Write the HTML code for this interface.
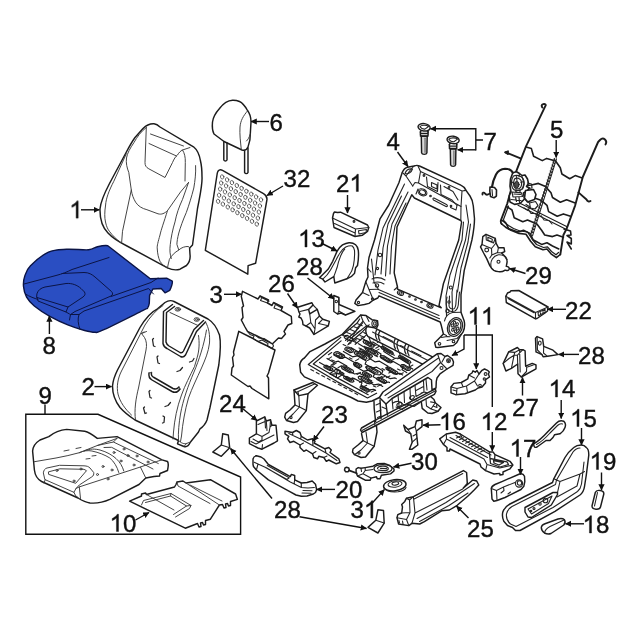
<!DOCTYPE html>
<html><head><meta charset="utf-8">
<style>
html,body{margin:0;padding:0;background:#fff;}
svg{display:block;}
text{font-family:"Liberation Sans",sans-serif;font-size:24.0px;fill:#111;stroke:#111;stroke-width:0.4px;}
.p{fill:none;stroke:#1c1c1c;stroke-width:1.45;stroke-linejoin:round;stroke-linecap:round;}
.t{fill:none;stroke:#3a3a3a;stroke-width:0.95;stroke-linejoin:round;stroke-linecap:round;}
.m{fill:none;stroke:#242424;stroke-width:1.1;stroke-linejoin:round;stroke-linecap:round;}
.a{fill:none;stroke:#111;stroke-width:1.4;}
.b{fill:#2a4ec2;stroke:#0b1445;stroke-width:1.4;stroke-linejoin:round;}
.bl{fill:none;stroke:#0b1445;stroke-width:1.0;stroke-linejoin:round;stroke-linecap:round;}
</style></head><body>
<svg width="640" height="640" viewBox="0 0 640 640">
<defs>
<marker id="ah" markerWidth="8" markerHeight="8" refX="5.8" refY="3.1" orient="auto" markerUnits="userSpaceOnUse"><path d="M0,0 L6.3,3.1 L0,6.2 Z" fill="#111"/></marker>
<path id="one" d="M763 0 H583 V-1147 Q518 -1085 412.5 -1023 T223 -930 V-1104 Q374 -1175 487 -1276 T647 -1472 H763 Z" fill="#111" stroke="#111" stroke-width="34"/>
</defs>
<rect width="640" height="640" fill="#fff"/>
<!-- p01_seatback.svg -->
<g>
<!-- outer outline -->
<path class="p" d="M154,123.800 C149,123.500 146,125.500 143,128.500 L135,137.500 C131,143 128,149 124.500,155.500 L109.500,183.500 C104,194 100.500,202 100,209 C99.800,218 101,226 108,233 C113,238.500 119,242 127,246 L167.500,267.800 C172,270 176,270.500 180,269.200 L186.500,265.500 C189.500,262.500 190.500,258.500 190,254.500 L189.600,248 L192.500,245 L197.500,208.500 C200,195 202.500,185 202,177 C202,170 201.500,165 200.500,161 C199.500,155 197.500,150 193.500,146.800 L160,127 C158,125 156,124 154,123.800 Z"/>
<g class="t">
<!-- shoulder seam from top-left -->
<path d="M146.300,127.500 C141,131.500 137,137 134,142.500 C130,148.500 127.300,153 126.500,158 C125.800,163 127,168 128.800,172.500 L131.300,190 C132,195 133.500,198.500 135.600,202.200 C138,206 142,208.500 146.900,209.700 L158,213.800 C161.500,214.800 164.500,213.500 167.500,210.600 L180.600,191.900 L188.500,182.500"/>
<!-- left inner seam -->
<path d="M126.300,153.800 L113.800,181.300 C109,190.500 106,198.500 105.600,205 C104.500,212 104.500,218 105.500,222 C106.500,227 108,229.500 109.400,231.300 C112.500,235.500 116,239 120.600,242.500"/>
<!-- center-left panel seam -->
<path d="M131.300,190 L122.500,231.300 L121.600,242.800"/>
<!-- headrest area -->
<path d="M146.300,127.500 L145,162.500 C145,165.500 146,167.300 148.800,168.800 L165,177.500 L172.500,162.500 C174,159 175.500,156.500 177.500,155 C179,152.500 180.500,151 182.500,150 L190,147.500"/>
<path d="M150.500,134 L183.500,146 M149,143.500 L176.500,156"/>
<!-- right of headrest down -->
<path d="M182.500,150 C184.500,153 185.500,157 185.300,162.500 L185,181"/>
<!-- right-center seam -->
<path d="M167.500,210.600 C164,222 161,230 160,235 C158,242 157,246 157.200,248 C157.500,254 158.500,258 160,261.300 C162,264.500 164.500,266.500 167.500,267.800"/>
<!-- right bolster inner lines -->
<path d="M188.500,182.500 C186.500,188 184.500,194 182.500,199.400 C179,207 176.500,214 175,221.900 C172.500,230 171,238 170.300,244.400 C169.500,250 170,255 171.300,258.500"/>
<path d="M195.600,165.600 C196,173 195,181 193.800,188 C191.500,197 189,205 186.300,212.500 C183,220 180.500,227 178.800,233 C177.500,238 177,241.500 176.900,244.400 L178.800,250 C181.500,247.500 185,246.300 188.500,246.500 L189.600,248"/>
<path d="M178.800,250 C174.500,252.500 171.500,255.500 169.400,259.400 C168.500,262.500 168,265.500 167.500,267.800"/>
</g>
</g>

<!-- p02_cushion_blue.svg -->
<g>
<path class="b" d="M30.5,265.8 C34.4,261.8 42.5,254.9 48.5,252.1 C54.5,249.4 59.9,249.7 66.6,249.3 C73.2,248.9 83.3,250.2 88.5,249.8 C93.6,249.4 94.3,247.4 97.5,246.7 C100.7,246.0 105.2,245.2 107.8,245.7 L113.0,249.8 L150.3,278.7 L166.6,278.2 L172.3,281.2 C172.8,283.3 170.9,288.3 169.7,290.3 L165.0,292.8 L161.2,288.5 L152.9,289.0 L149.6,295.4 L149.3,303.2 C149.0,305.3 148.6,306.8 147.5,308.1 C146.4,309.3 150.1,306.9 142.6,310.6 C135.1,314.3 110.6,326.6 102.7,330.2 C94.7,333.8 97.9,332.2 94.9,332.3 C91.9,332.3 89.1,331.7 84.6,330.5 C80.1,329.2 73.6,327.2 67.8,324.8 C62.0,322.5 55.4,319.4 49.8,316.3 C44.2,313.2 38.2,309.2 34.3,306.0 C30.5,302.8 28.4,300.5 26.6,297.2 C24.8,294.0 23.8,289.9 23.5,286.4 C23.2,282.9 23.6,279.5 24.8,276.1 C26.0,272.7 26.5,269.8 30.5,265.8 Z"/>
<g class="bl">
<path d="M24,284 L56,275.500 C62,274 67,272 72,269.500 L109,257.500"/>
<path d="M62,273.500 L84,272.500 C89,272.500 92,274.500 95,277 L111.500,291.500 C113,293 113,295 111,296 L75,311.500 L70.500,314.500 L69.500,320"/>
<path d="M111,296.500 L151,282.500 L158,278"/>
<path d="M37,293.500 C38,290 41,288 45,287 L66,283.500 C72,283 77,285 81,288.500 L84.500,292 C85.500,294 85,295.500 83,297 L68,307 L37,297.500 Z"/>
<path d="M37,297.500 L38,301 L66,312 L68,307"/>
<path d="M66,312 L69.500,314"/>
<path d="M25.500,294 C30,297 34,298 38,299.500"/>
<path d="M80,329.500 C78,324 77.500,319 79,314.500 L84,311 L148.500,288.500 L153.500,294"/>
<path d="M70.500,314.500 L79,314.500"/>
</g>
</g>

<!-- p03_headrest_panel.svg -->
<g class="p">
<!-- headrest 6 -->
<path d="M232.500,100.300 C228,100.500 223,104 219.500,108.500 C215.500,113 213,118 212.500,122 C212,127 212.500,131 214,134 L224,141.500 L242,150 C245,150.800 247,149.500 248,147 C249.500,143 250.500,138 250.300,134 L251,122 C251,117 249.500,113 247.500,110.500 C245,106 242,102.500 239.500,101.500 C237,100.500 235,100.200 232.500,100.300 Z"/>
<path class="t" d="M247.500,111 C243,116 240.500,121 240,127 C239.500,134 240.500,142 241.300,149.500"/>
<path class="t" d="M250.300,134 C249,138 248,139.500 246.500,141"/>
<path d="M223.800,141.500 L223.800,160 C224.500,161.300 226.300,161.300 227,160 L227,143"/>
<path d="M244.600,151 L244.600,172.500 C245.300,174 247.300,174 248,172.500 L248,148"/>
<!-- panel 32 -->
<path d="M217.300,173 C217.800,170 220,169 222.500,170.300 L263.500,193.700 C266.500,195.500 267.500,197.500 266.800,200.500 L255.600,263.300 L248.100,265.600 L247.800,274.200 L205.300,250.300 Z"/>
<g class="t" style="stroke-width:0.7"><ellipse cx="222.2" cy="176.9" rx="1.7" ry="2.1" transform="rotate(-15 222.2 176.9)"/><ellipse cx="227.1" cy="179.8" rx="1.7" ry="2.1" transform="rotate(-15 227.1 179.8)"/><ellipse cx="231.9" cy="182.6" rx="1.7" ry="2.1" transform="rotate(-15 231.9 182.6)"/><ellipse cx="236.8" cy="185.5" rx="1.7" ry="2.1" transform="rotate(-15 236.8 185.5)"/><ellipse cx="241.6" cy="188.3" rx="1.7" ry="2.1" transform="rotate(-15 241.6 188.3)"/><ellipse cx="246.4" cy="191.2" rx="1.7" ry="2.1" transform="rotate(-15 246.4 191.2)"/><ellipse cx="251.3" cy="194.1" rx="1.7" ry="2.1" transform="rotate(-15 251.3 194.1)"/><ellipse cx="256.1" cy="196.9" rx="1.7" ry="2.1" transform="rotate(-15 256.1 196.9)"/><ellipse cx="261.0" cy="199.8" rx="1.7" ry="2.1" transform="rotate(-15 261.0 199.8)"/><ellipse cx="221.2" cy="183.0" rx="1.7" ry="2.1" transform="rotate(-15 221.2 183.0)"/><ellipse cx="226.1" cy="185.9" rx="1.7" ry="2.1" transform="rotate(-15 226.1 185.9)"/><ellipse cx="230.9" cy="188.7" rx="1.7" ry="2.1" transform="rotate(-15 230.9 188.7)"/><ellipse cx="235.7" cy="191.6" rx="1.7" ry="2.1" transform="rotate(-15 235.7 191.6)"/><ellipse cx="240.6" cy="194.4" rx="1.7" ry="2.1" transform="rotate(-15 240.6 194.4)"/><ellipse cx="245.4" cy="197.3" rx="1.7" ry="2.1" transform="rotate(-15 245.4 197.3)"/><ellipse cx="250.2" cy="200.2" rx="1.7" ry="2.1" transform="rotate(-15 250.2 200.2)"/><ellipse cx="255.1" cy="203.0" rx="1.7" ry="2.1" transform="rotate(-15 255.1 203.0)"/><ellipse cx="259.9" cy="205.9" rx="1.7" ry="2.1" transform="rotate(-15 259.9 205.9)"/><ellipse cx="220.2" cy="189.1" rx="1.7" ry="2.1" transform="rotate(-15 220.2 189.1)"/><ellipse cx="225.0" cy="191.9" rx="1.7" ry="2.1" transform="rotate(-15 225.0 191.9)"/><ellipse cx="229.8" cy="194.8" rx="1.7" ry="2.1" transform="rotate(-15 229.8 194.8)"/><ellipse cx="234.7" cy="197.7" rx="1.7" ry="2.1" transform="rotate(-15 234.7 197.7)"/><ellipse cx="239.5" cy="200.5" rx="1.7" ry="2.1" transform="rotate(-15 239.5 200.5)"/><ellipse cx="244.4" cy="203.4" rx="1.7" ry="2.1" transform="rotate(-15 244.4 203.4)"/><ellipse cx="249.2" cy="206.2" rx="1.7" ry="2.1" transform="rotate(-15 249.2 206.2)"/><ellipse cx="254.0" cy="209.1" rx="1.7" ry="2.1" transform="rotate(-15 254.0 209.1)"/><ellipse cx="258.9" cy="212.0" rx="1.7" ry="2.1" transform="rotate(-15 258.9 212.0)"/><ellipse cx="219.1" cy="195.2" rx="1.7" ry="2.1" transform="rotate(-15 219.1 195.2)"/><ellipse cx="224.0" cy="198.0" rx="1.7" ry="2.1" transform="rotate(-15 224.0 198.0)"/><ellipse cx="228.8" cy="200.9" rx="1.7" ry="2.1" transform="rotate(-15 228.8 200.9)"/><ellipse cx="233.7" cy="203.8" rx="1.7" ry="2.1" transform="rotate(-15 233.7 203.8)"/><ellipse cx="238.5" cy="206.6" rx="1.7" ry="2.1" transform="rotate(-15 238.5 206.6)"/><ellipse cx="243.3" cy="209.5" rx="1.7" ry="2.1" transform="rotate(-15 243.3 209.5)"/><ellipse cx="248.2" cy="212.3" rx="1.7" ry="2.1" transform="rotate(-15 248.2 212.3)"/><ellipse cx="253.0" cy="215.2" rx="1.7" ry="2.1" transform="rotate(-15 253.0 215.2)"/><ellipse cx="257.9" cy="218.1" rx="1.7" ry="2.1" transform="rotate(-15 257.9 218.1)"/><ellipse cx="218.1" cy="201.3" rx="1.7" ry="2.1" transform="rotate(-15 218.1 201.3)"/><ellipse cx="222.9" cy="204.1" rx="1.7" ry="2.1" transform="rotate(-15 222.9 204.1)"/><ellipse cx="227.8" cy="207.0" rx="1.7" ry="2.1" transform="rotate(-15 227.8 207.0)"/><ellipse cx="232.6" cy="209.8" rx="1.7" ry="2.1" transform="rotate(-15 232.6 209.8)"/><ellipse cx="237.4" cy="212.7" rx="1.7" ry="2.1" transform="rotate(-15 237.4 212.7)"/><ellipse cx="242.3" cy="215.6" rx="1.7" ry="2.1" transform="rotate(-15 242.3 215.6)"/><ellipse cx="247.1" cy="218.4" rx="1.7" ry="2.1" transform="rotate(-15 247.1 218.4)"/><ellipse cx="252.0" cy="221.3" rx="1.7" ry="2.1" transform="rotate(-15 252.0 221.3)"/><ellipse cx="256.8" cy="224.1" rx="1.7" ry="2.1" transform="rotate(-15 256.8 224.1)"/></g>
</g>

<!-- p04_panels3.svg -->
<g class="p">
<!-- upper panel -->
<path d="M242.500,291.300 L258,299 L260,296 L268.500,300 L267.500,303 L272,305.500 L273.500,302.500 L282.500,307 L281,310.500 L291.300,316.300 L291.800,323.500 L288,325 L284,331.500 L285.500,334 L281.500,338.500 L278.500,338 L272.500,343.800 L256,335.500 L247.500,331.300 L245,327 L241.300,320 L243,317.500 L242,307.500 L243.500,306 L241.300,296.300 Z"/>
<path class="m" d="M260,296 L262,297.800 L269,301.200 M261.500,298.500 L260.500,300.500 L267.500,303 M273.500,302.500 L275.500,304.500 L282,308 M275,305.500 L274,308 L281,310.500"/>
<!-- connectors -->
<path class="m" d="M247.500,331.300 L250,334.500 L254,336 L253,338.500 L258,341.500 L262,340 L268,343.500 L267.500,346 L272,348.500 L273.500,346 L272.500,343.800 M256,335.500 L259,338 L264,338.500 L270.500,342.500"/>
<!-- lower panel -->
<path d="M238.800,331.300 L250,337 L253,338.500 L258,341.500 L267.500,346 L272,348.500 L275,350 L268.500,373 L267,376 L268.500,378 L268.800,398.800 L252,388.500 L250,386 L248,386.500 L231.300,375 L232,368 L233.500,366 L232.500,357.500 L234,355 L233.500,352 Z"/>
<!-- 26 bracket -->
<path d="M297.700,307.200 L311.900,302.800 L313,305 L308.600,309.400 L309.700,313.800 L317.300,309.400 L319.500,316 L322.800,319.200 L329.400,321.400 L328.300,325.800 L314,334.500 L309.700,328 L306,326 L303,324.700 L302.500,321 L301,318 L298.800,317 L300,314 L298.800,311.600 Z"/>
<path class="m" d="M308.600,309.400 L300,311.500 M309.700,313.800 L310.800,322.500 L315,329 L314,334.500 M310.800,322.500 L306,326 M317.300,309.400 L313,305 M319.500,316 L315.500,320 L315,329 M322.800,319.200 L318.500,323.500 L328.300,325.800"/>
<!-- 28 bracket upper -->
<path d="M333.800,295.500 L338.800,297.500 L339,304.500 L355,311.300 L345.500,315 L341,313 L337.500,314 L333.800,311.500 Z"/>
<path class="m" d="M338.800,297.500 L338.800,311 L345.500,315 M338.800,311 L337.500,314"/>
<circle class="m" cx="336.300" cy="301.500" r="1.200"/>
</g>

<!-- p05_pad2.svg -->
<g class="p">
<!-- seat back pad 2 outline -->
<path d="M165,302.500 C168,300.500 171,300 174,301.500 L208,319 C213,322 217,328 219.500,335 C221,342 220.500,352 218.800,365 L210,407.500 L207,420 C205.500,424 203.500,426.500 200,428.800 L198.500,432 L190.500,442 C188.500,446 186.500,447.500 184,446.500 L177.500,443.800 L178.500,440.500 L135,420 C129,416 124,412 120,407.500 C115,401 112.500,394 112.500,386 C113,380 115,375 117.500,370 L140,327.500 C145,319 151,312 157.500,308.800 Z"/>
<!-- inner left seam -->
<path class="t" d="M163,305.500 C156,310 150,317 145,325 L121.500,371 C117.500,379 116.500,387 118,394 C120,402 125,409 131.500,415"/>
<path class="t" d="M135.500,420 C134,410 136,398 138.500,388 L146,350 C147,345 146.500,341 144.500,337.500 L141.500,333.500 L144,332 M141.500,333.500 L146.500,331.500"/>
<!-- U channel top -->
<path d="M172.500,304.500 L163.500,311.500 L163,343.500 C163.500,346 165,347.500 167,348.500 L180.500,356.500 C182.500,357.500 184,357 185.500,355 L196.500,331.500 L205.500,322"/>
<path d="M174.500,306.500 L166.500,312.500 L166,342 C166.500,344 167.500,345 169,346 L180,352.500 C181.500,353.300 182.500,352.800 183.500,351 L194,329.500 L203.500,320.500"/>
<path class="t" d="M170,312.500 L198,325.500"/>
<ellipse class="t" cx="177.800" cy="309.300" rx="2.800" ry="1.800"/>
<ellipse class="t" cx="177.800" cy="309.300" rx="1.300" ry="0.800"/>
<ellipse class="t" cx="196.800" cy="319.500" rx="2.800" ry="1.800"/>
<ellipse class="t" cx="196.800" cy="319.500" rx="1.300" ry="0.800"/>
<!-- right bolster seams -->
<path class="t" d="M205.500,322 C209,328 210,335 209.500,343 C208.500,352 205,360 201.500,368 C197,378 192,388 188.500,398 C185,410 182.500,424 181.500,436 L180.500,441.500"/>
<path class="t" d="M198.500,335.500 C199.500,342 199.500,350 197,358 L194.500,366.500 C190,376 185,385 181.500,395 C177,407 174.500,420 173.500,432 L173,439"/>
<path class="t" d="M206.500,330 C204,345 199,360 194,372 C188,386 183,400 180.500,414 C179,423 178,432 178.500,440.500"/>
<path class="t" d="M178.500,440.500 C181,443 184.500,444.500 186.500,443.500 M184,446.500 L186.500,443.500 L190.500,442"/>
<!-- mid channel -->
<path d="M149,373 C148.500,376 149.500,378.500 152,380 L172,391.500 C175,393 178,392 180,389"/>
<path d="M151.500,372.500 C151,374.500 152,376.500 154,377.500 L173,388.500 C175.500,389.500 177.500,389 179,387"/>
<path class="t" d="M149,373 L151.500,372.500 M180,389 L179,387"/>
<!-- small clips -->
<g class="m" style="stroke-width:1.25">
<path d="M153.500,338.500 L152.500,339.500 L153.500,346 L155,346.500"/>
<path d="M158,356 L157,357 L158,363 L159.500,363.500"/>
<path d="M189.500,362 L192.500,361 L194,358.500"/>
<path d="M177,371.500 L180,370.500 L182.500,367.500"/>
<path d="M150,390.500 L149,391.500 L150,397.500 L151.500,398"/>
<path d="M144.500,407 L143.500,408 L145,413.500 L146.500,413"/>
<path d="M165,406.500 L168,405.500 L170.500,402.500"/>
<path d="M163,416 L164.500,417 L164,422.500 L162.500,423"/>
</g>
</g>

<!-- p06_box9.svg -->
<g class="p">
<!-- pad 9 -->
<path d="M32.600,451 C33,446 36,442.500 40,440 L48.800,436.600 C54,432.500 60,430 66.700,429.400 L84.700,431.200 C89,432 93,435 97.300,438.400 L117,436.600 L162,459.900 L167.500,461.500 C168.500,463 168.500,466 167.500,470.500 L160,473.500 L159.500,476 L154,476.500 L145.800,478 L139,484.500 L109.800,499.400 C103,502.500 96,503.500 90,503 C86,502.500 82,500.500 78,498 L41.600,481.500 C37,479 35,475 34.400,470 Z"/>
<path class="t" d="M34.400,461.700 L56,458 C64,456.500 72,454.800 79.300,452.700 L97.300,445.500 L117,438.400"/>
<path class="t" d="M43.400,472.500 C43.800,470 45,468.500 47,468 L59.500,465.300 L84,465.800 C87,466 88.500,466.500 90,468 L93.700,472.500 C94,474.500 93.500,475.800 91.900,476.800 L79.300,485 L76,488.500 L73.900,492.300 L45.200,479.700 Z"/>
<path class="t" d="M48.800,471.800 L60,468.800 L84,469.300 L86.500,470.700 L75.700,483.300 L49,474.500 Z"/>
<path class="t" d="M73.900,492.300 L75.700,495.800 L78,497.500 M45.200,479.700 L44,483"/>
<path class="t" d="M79.300,486.900 L140.400,467 L145.800,478 M76,488.500 L79.300,486.900 L80.500,498.500"/>
<path class="t" d="M140.400,467 L156.500,461.500 L162,459.900"/>
<path class="t" d="M79.300,452.700 C84,450.500 88,450.300 91.900,451 C99,452.500 105,455 109.800,458 C114,461.500 117,466.500 118.800,472.500 M84.500,450.800 C90,448.500 95,448.800 100,450 C107,452 112,455 116,458.500 C120,462 122.500,466.500 123.800,471"/>
<path class="t" d="M97.300,445.500 L113.400,442 L158.300,463.500 M104,447.500 L111.600,447.300 L153,469 M117,438.400 L113.400,442"/>
<g class="t">
<circle cx="57" cy="470.500" r="1"/><circle cx="81" cy="469" r="1"/><circle cx="74" cy="481" r="1"/>
<circle cx="103" cy="466.500" r="1"/><circle cx="97.500" cy="474.500" r="1"/><circle cx="108" cy="479" r="1"/>
<circle cx="121" cy="461" r="1"/><circle cx="134" cy="465" r="1"/><circle cx="114" cy="452.500" r="1"/>
<circle cx="124" cy="449" r="1"/><circle cx="137" cy="456" r="1"/><circle cx="148" cy="462" r="1"/>
<circle cx="128" cy="455.500" r="1"/><circle cx="112" cy="470" r="1"/>
<path d="M64,451 L69,450 M76,448.500 L81,447.500 M86,459 L90,458.500 M92,456 L96,455.500"/>
</g>
<!-- part 10 -->
<path d="M129.600,501.200 L141.500,496 L141.500,494 L145.500,493 L146.500,494.500 L174.500,487 L176,484.500 L177,482 L183,481 L186,483 L210.400,479.700 L235.600,494 L237.400,499.400 L230.500,501.500 L230.500,505.500 L228.500,506 L227.500,503.500 L225.500,504 L226,507.500 L224,508 L222.500,504.500 L219.400,505 L210.400,519.200 L205.500,520.500 L205.500,524.500 L203.500,525 L202.500,522.500 L200.500,523 L201,526.500 L199,527 L197.500,523.500 L185.300,528.200 Z"/>
<path class="t" d="M146.500,494.500 L174,510 M141.500,505 L143.500,500.500 L171,493.500 L191,505.500 L189.500,508.500 L175.500,517 M145.500,502.500 L170.500,496 L186.500,506 L173.500,514.500 M171,493.500 L170.500,496 M191,505.500 L186.500,506"/>
<path class="t" d="M186,483 L219.400,505 M177,482 L178,486 L210,503.500 M190,485 L222,501"/>
</g>

<!-- p07_frame4.svg -->
<g class="p">
<!-- frame 4 outer -->
<path d="M402.300,172.300 C403.500,169.500 405.500,167.700 407.500,167.200 L414,166 C416,165.200 418,165.200 419.500,166 L460.800,185.200 C463.500,186.300 465,188 466,190.400 L470,196 C472,199 473,202 473.300,206 L474.500,218.800 C474.500,224 473.500,232 471.900,240 L464.200,270.600 L461,294.700 L461,312.200 L464.200,321 C465,325 464.500,329 463.100,331.900 L460.500,335.500 L456.600,342.800 L453.500,345.500 L438,347.500 L435.800,347.200 L434.700,342.800 L438,339.500 L443.400,334 L441.250,325.300 L440.200,322 L379,295.800 L377.800,298 L373.400,300 L369,303.400 L364.500,304.500 L358,305.600 L354.800,303.400 L356,300 L362.500,292.500 L365.800,281.600 L368,277 L367.500,268 L369,257.500 L374.500,240 L380,218.800 L388.800,205 L398.900,182.700 Z"/>
<!-- inner opening -->
<path d="M414.400,198 L411.800,194.700 L408,203 L397,227 L396.400,240 L394.200,272.800 L397.500,287 L397.500,289.200 L441.250,307.800 L439,305.600 L443.400,283.750 L458.750,240 L461.600,222 L460.800,220.500 Z"/>
<!-- top crossbar details -->
<path class="m" d="M412.700,186 L415,182.500 L418.500,183 L461,206.500 L460.800,220.500 M418.500,183 L420.500,171.500 L417.800,165.500"/>
<path class="m" d="M420.500,171.500 L462,191 L466,190.400 M462,191 L461,206.500"/>
<path class="m" d="M402.300,172.300 L406,176 L412.700,186 M406,176 L410,170.500 L414,166"/>
<path class="m" d="M405,173.500 C406,170.500 409,168.500 412.500,169 C411.500,172 408.500,174.500 405,173.500 Z"/>
<path class="m" d="M426.500,177 L427.500,186.500 L437.500,191.500 L438,182.500 M431.500,182.500 L437,185 L437,189 L431.500,186.500 Z"/>
<path class="m" d="M440.500,185 L441,194.500 L452,200 L457,205.500 M444,186.500 L453,191.500 L458,200"/>
<ellipse class="m" cx="422.500" cy="192.300" rx="3.200" ry="2.200" transform="rotate(25 422.500 192.300)"/>
<ellipse class="m" cx="422.500" cy="192.300" rx="4.600" ry="3.300" transform="rotate(25 422.500 192.300)"/>
<path class="m" d="M434,198 L446.500,204.500 C448,205.500 447.500,207 446,206.500 L433.500,200 C432.500,199 433,197.700 434,198 Z"/>
<path class="m" d="M416,194 L418,189 M450.500,207.500 L456,210 L457,205.500"/>
<circle class="m" cx="424" cy="175.500" r="0.900"/><circle class="m" cx="449" cy="187.500" r="0.900"/><circle class="m" cx="430.500" cy="196" r="0.800"/><circle class="m" cx="451" cy="206" r="0.800"/>
<!-- left upright channels -->
<path class="m" d="M404.500,184 L383,228 L378,250 L375,275 M408,192 L392,224 L387.500,246 L385.500,276 M401.500,196 L388,224 L383,248 L381,274 M406,203 L395,226 L391.500,246 L390,274"/>
<path class="m" d="M371.500,259 L374,282 L378,288.500 M367.500,268 L371,272"/>
<circle class="m" cx="380" cy="255" r="1.700"/><circle class="m" cx="377.500" cy="268.500" r="1.100"/><circle class="m" cx="377" cy="285.500" r="1.700"/>
<path class="m" d="M372,279 C376,277 381,277.500 385,280 M373,283 C377,281.500 381,282 384,284"/>
<!-- left foot -->
<path class="m" d="M365.800,281.600 L369,289.500 L373.400,300 M362.500,292.500 L369,295.500 M369,289.500 L377.800,289.200"/>
<circle class="m" cx="358.500" cy="302.500" r="1.100"/><circle class="m" cx="372.500" cy="299" r="1.100"/>
<!-- bottom crossbar -->
<path class="m" d="M377.800,289.200 L439,315.500 M379,292.500 L439.500,318.700 M397.500,287 L394.200,290"/>
<ellipse class="m" cx="400.500" cy="293" rx="3.200" ry="2.200" transform="rotate(23 400.500 293)"/>
<ellipse class="m" cx="400.500" cy="293" rx="1.600" ry="1.100" transform="rotate(23 400.500 293)"/>
<ellipse class="m" cx="430" cy="305.800" rx="3.200" ry="2.200" transform="rotate(23 430 305.800)"/>
<ellipse class="m" cx="430" cy="305.800" rx="1.600" ry="1.100" transform="rotate(23 430 305.800)"/>
<circle class="m" cx="409.500" cy="296.500" r="0.800"/><circle class="m" cx="415.500" cy="299.500" r="0.800"/><circle class="m" cx="421.500" cy="302" r="0.800"/>
<!-- right upright channels -->
<path class="m" d="M466,205 L468.500,222 L465.500,240 L457,268 L452,292 L452.500,312 M463.500,222 L462,240 L450,275 L446,296 L446.500,316 M470.500,224 L468,242 L461,268 L457.500,292"/>
<circle class="m" cx="450.800" cy="287.500" r="1.500"/><circle class="m" cx="449" cy="302" r="1.200"/><circle class="m" cx="447.500" cy="311" r="1.700"/>
<!-- recliner -->
<ellipse class="m" style="stroke-width:1.3" cx="455.0" cy="327.0" rx="7.2" ry="9.6" transform="rotate(22 455.0 327.0)" fill="#fff"/>
<ellipse class="m" style="stroke-width:1.2" cx="455.0" cy="327.0" rx="5.600" ry="7.800" transform="rotate(22 455.0 327.0)"/>
<ellipse class="m" cx="457.7" cy="328.5" rx="1.1" ry="1.5" transform="rotate(20 457.7 328.5)"/><ellipse class="m" cx="455.5" cy="331.3" rx="1.1" ry="1.5" transform="rotate(20 455.5 331.3)"/><ellipse class="m" cx="452.8" cy="329.8" rx="1.1" ry="1.5" transform="rotate(20 452.8 329.8)"/><ellipse class="m" cx="452.3" cy="325.5" rx="1.1" ry="1.5" transform="rotate(20 452.3 325.5)"/><ellipse class="m" cx="454.5" cy="322.7" rx="1.1" ry="1.5" transform="rotate(20 454.5 322.7)"/><ellipse class="m" cx="457.2" cy="324.2" rx="1.1" ry="1.5" transform="rotate(20 457.2 324.2)"/>
<circle class="m" cx="455.0" cy="327.0" r="1.100"/>
<path class="m" d="M444.500,321 C445.500,316.500 448.500,313.500 452.500,312.500 L461,312.200 M446.500,335.500 L443.400,334 M441.500,337.500 L447,336.500 L450,336.800 M447,340.500 L457,338.500 L461,334.500"/>
<circle class="m" cx="439.500" cy="343.800" r="1.300"/><circle class="m" cx="453.500" cy="341.500" r="1.300"/>
<path class="m" d="M447,297 C446,301 446,306 447.500,309.500 C449,311.500 452,311.800 455,311 C457.500,309.500 458.500,306 458.500,302 L459.500,292 M449.500,296 L449,306 C449.500,308.500 451.500,309.500 454,308.800 C455.500,307.500 456,305 456,302 L457,290"/>
</g>

<!-- p08_bolts_mat.svg -->
<g class="p">
<!-- bolts 7 -->
<path d="M421.3,136.3 L421.6,152.8 C422.1,154.9 426.4,154.9 426.9,152.8 L427.2,136.3 Z" fill="#d9d9d9"/>
<path class="m" style="stroke:#777;stroke-width:1.4" d="M425.05,138.3 L425.05,152.3"/>
<path d="M420.40000000000003,131.8 L420.40000000000003,134.8 L421.3,136.3 M428.09999999999997,131.8 L428.09999999999997,134.8 L427.2,136.3 M420.40000000000003,135.9 L428.09999999999997,135.9 M420.40000000000003,133.5 L428.09999999999997,133.5"/>
<path d="M421.1,130.5 L420.40000000000003,132.1 M427.4,130.5 L428.09999999999997,132.1"/>
<ellipse cx="424.1" cy="127.3" rx="6.1" ry="3.7" transform="rotate(8 424.1 127.3)" fill="#fff"/>
<path class="m" d="M419.90000000000003,126.7 C421.1,124.89999999999999 426.6,124.7 428.5,126.5 L424.90000000000003,129.1 C423.1,129.3 421.1,128.3 419.90000000000003,126.7 Z"/>
<path d="M450.3,148.9 L450.6,164.8 C451.1,166.9 455.09999999999997,166.9 455.59999999999997,164.8 L455.9,148.9 Z" fill="#d9d9d9"/>
<path class="m" style="stroke:#777;stroke-width:1.4" d="M453.90000000000003,150.9 L453.90000000000003,164.3"/>
<path d="M449.40000000000003,144.4 L449.40000000000003,147.4 L450.3,148.9 M456.79999999999995,144.4 L456.79999999999995,147.4 L455.9,148.9 M449.40000000000003,148.5 L456.79999999999995,148.5 M449.40000000000003,146.1 L456.79999999999995,146.1"/>
<path d="M450.1,143.1 L449.40000000000003,144.70000000000002 M456.09999999999997,143.1 L456.79999999999995,144.70000000000002"/>
<ellipse cx="453.1" cy="139.9" rx="6.1" ry="3.7" transform="rotate(8 453.1 139.9)" fill="#fff"/>
<path class="m" d="M448.90000000000003,139.3 C450.1,137.5 455.6,137.3 457.5,139.1 L453.90000000000003,141.70000000000002 C452.1,141.9 450.1,140.9 448.90000000000003,139.3 Z"/>
</g>
<g class="p" style="stroke-width:1.9">
<!-- spring mat 5: side wires -->
<path d="M542.300,107.500 C541.300,106 541.500,104.500 543,104.200 C544.500,103.800 545.800,104.200 545.800,105.200 L526,146.400 L516.100,171.600 L507.200,203.800 L501,220 C500.500,222.500 501,223.500 501.700,224"/>
<path d="M605.500,144.500 C606.500,143 606.500,141 605,139.500 C603.500,138.300 601.500,138.500 600,140 L598.100,142 L582.800,177 L575.200,205.300 L566.600,228.800 L563.400,235 L560.300,254.500"/>
<path d="M505.500,152.300 L520.500,158.400"/>
<path d="M505.200,152.300 L508,151.300 L507.800,154 Z" fill="#222"/>
<path d="M578.400,192.400 L586.500,199.500 C587.500,201.500 589,202 590.500,201"/>
</g>
<g class="p" style="stroke-width:1.6">
<!-- zigzags -->
<path d="M526,147 L531.400,148.600 L533.600,156.300 L542.300,160.600 L546.700,158.400 L555.600,161 L560.300,167.800 L561.900,174 L569.700,178.800 L575.200,175.600 L582.200,178"/>
<path d="M527.500,185.500 L531.400,185 L538.400,183.400 L545.500,186.600 L551,192.800 L552.500,197.500 L560.300,202.200 L566.600,199.800 L575.200,203"/>
<path d="M527.500,200.600 L535.300,198.300 L541.600,200.600 L547,205.300 L548.600,211.600 L557.200,216.300 L563.400,213.900 L570.500,216.300"/>
<path d="M507.200,206.900 L512,210 L514.200,217.800 L522.800,221.700 L527.500,220 L536.900,224 L541.600,230.300 L544.700,235 L552.500,236.600 L557,235 L563.400,237.300"/>
<path d="M501.700,220.200 L505.600,222.500 L508.800,228.800 L518,232 L523.500,230.300 L530,233.400 L533,239.700 L541.600,244.400 L547,242.800 L552.500,246 L558.800,249"/>
<path d="M501.700,224 L505.600,227.200 L511,230.300 L519,233.400 L526,234.200 L530.600,241.300 L535.300,246.700 L543,249.800 L547,249 L551,253.800 L556.400,257.700 L560.300,254.500"/>
<path style="stroke-width:1.2" d="M508.500,206 L503.500,219.500 L504.500,222.500 L508.500,225.500 L513.500,228.500 L520,231 L527.500,232 L532,239 L536.500,244.500 L543.500,247.500 L547.500,246.800 L551.500,251.500 L556,254.800 L558.500,252.500"/>
<!-- center strap -->
<path class="m" d="M554.700,158.400 L530.500,235.500 M556.500,158.800 L532.500,235.800"/>
<path class="m" d="M555.500,160.600 L554,159 M554.500,163.500 L553,162 M553.600,166.500 L552.100,165 M552.600,169.500 L551.100,168 M551.700,172.500 L550.200,171 M550.700,175.500 L549.200,174 M549.800,178.500 L548.300,177 M548.800,181.500 L547.300,180 M547.900,184.500 L546.400,183 M546.900,187.500 L545.400,186 M546,190.500 L544.500,189 M545,193.500 L543.500,192 M544.100,196.500 L542.600,195 M543.100,199.500 L541.600,198 M542.200,202.500 L540.700,201 M541.200,205.500 L539.700,204 M540.300,208.500 L538.800,207 M539.300,211.500 L537.800,210 M538.400,214.500 L536.900,213 M537.400,217.500 L535.900,216 M536.500,220.500 L535,219 M535.500,223.500 L534,222 M534.600,226.500 L533.100,225 M533.600,229.500 L532.100,228 M532.700,232.500 L531.200,231"/>
<!-- lumbar bar -->
<path style="stroke-width:1.1" d="M518,205.300 L565,228.800 M519.500,203 L566.600,226.500"/>
<path class="m" d="M528,209 L531,213.500 L536,213.500 L538.500,216.500 M541,215.500 L544,220 L549,220.500 L552,224"/>
<!-- right lower bracket -->
<path d="M564,229 L570.500,231 L571,235 L567,235.500 L571.300,238.500 L571.300,244 L567,242 L571.300,249"/>
<!-- motor -->
<path d="M512.800,172.700 L516.500,171.800 L519.500,173.500 L522,175.500 L525,175 L527.500,179 L528.500,183.500 L526.500,186.500 L529.500,188 L527,191 L523.500,193 L524.500,199 L520,203.500 L514.500,204.400 L510,202 L509.200,196 L511,192 L510,186 L510.500,179 Z" fill="#fff"/>
<path class="m" style="stroke-width:1.2" d="M513.500,176 C516.500,174.500 521,175.500 523,178.500 C525,182 524.500,187 521.500,189.500 C518.500,191.500 514,191 512.500,188 C511,184 511.500,179 513.500,176 Z"/>
<path class="m" style="stroke-width:1.2" d="M514.500,179 C516.500,177.500 519.500,178 521,180.500 C522,183.500 521.500,187 519.500,188.500 C517.500,189.500 515,188.800 514,186.500 C513.300,184 513.500,181 514.500,179 Z"/>
<ellipse cx="516.800" cy="184.600" rx="2.300" ry="3.200" fill="#4a4a4a" stroke="#222" stroke-width="1"/>
<path class="m" d="M516.500,176.500 L517,181 M512,182 L514.500,183.500 M521,182.500 L523.500,181.500 M522,176.500 L524,183 L522.500,189 M519.500,173.500 L519,177"/>
<path class="m" style="stroke-width:1.2" d="M512,192 L521.500,192.800 L522.500,196.500 L513,197 Z M511,199.500 L521,200.500 M514,194 L520.500,194.500 M516,189.500 L516,192 M520,189.500 L520,192 M515.500,197 L516.500,201.500 M519,197 L519.500,203"/>
<path d="M525.500,190.500 L533.500,189.500 L536,194.500 L534.500,199.500 L527.500,202 L524.500,198 Z" fill="#fff"/>
<path class="m" style="stroke-width:1.2" d="M527.500,183 L531.500,184 L532,188 L528.500,188.500 M529.500,203 L535.500,201.500 L538,205.500 L535,209 L530.500,208 Z M524.500,199 L529.500,203 M526,204.500 L530,207 L528,210.500 L524,208"/>
<!-- cable -->
<path d="M512.800,172.700 C511.500,170 509,168.800 505,168.800 C501,169 498,171 496,174.500 C494,178.500 492.500,183 492,187" style="stroke-width:2.1"/>
<path d="M490,187 L494.500,187.500 L496.500,190 L496.400,196 L494,197.800 L490.500,196.500 L489.800,191 Z"/>
<path class="m" d="M492,189.500 L492.500,195.500"/>
<path d="M482.500,194.500 C482,192.500 484,192 485,193.500 C486,195 487.500,195 489.500,193.800" style="stroke-width:1.9"/>
</g>

<!-- p09_small_right.svg -->
<g class="p">
<!-- motor 29 -->
<path d="M482.800,236.700 L486,234.400 L495.300,238.300 L496,243 L498.400,247.700 L504,247.700 L504.700,251.600 L501.600,253 L505.500,257 C506.800,259 507.300,261 507,262.500 L506.300,266.400 C508,266.500 509.300,267.500 509.300,268.800 C509.300,270.200 507.500,271 506,270.300 L504.700,270.300 C503,271.500 500.500,272 498.400,271.600 C496.500,271.500 495,271 493.800,270.300 C492,269 490.800,267.500 489.800,265.600 L486.700,258.600 L483.600,253 L480.500,246.900 L482,244.500 Z"/>
<path class="m" d="M486,234.400 L486.300,240 L493.500,243 L495.300,238.300 M487.800,237.300 L488,240.300 L492,242 L492.300,239.200 Z M482,244.500 L491.500,248.500 L496,243 M491.500,248.500 L491.800,255 L489.800,258 M498.400,247.700 L497.500,252.500 L501.600,253 M491.800,255 L497.500,252.500"/>
<path class="m" d="M491,266.500 C490,261 493,256 498.400,254.800 C502.500,254.500 505.500,256.500 507,259.500"/>
<circle class="m" cx="486.700" cy="250" r="1.900"/><circle class="m" cx="498.500" cy="261.800" r="1.500"/>
<!-- module 22 -->
<path d="M507.500,293 L510,292 L511,290.800 L518.800,290.500 L548,307 L547.500,311 L545,313 L537,318.500 L535.500,318.800 L506.300,302.500 L505.800,296.300 Z"/>
<path class="m" d="M505.800,296.300 L535.500,312.500 L548,307 M535.500,312.500 L535.500,318.800 M508,298.500 L534,312.800"/>
<path class="m" d="M538,312.500 L545,309.300 L545.200,312.200 L538.500,315.800 Z M540.500,312.800 L540.600,314.500 M543,311.500 L543,313.200"/>
<!-- module 21 -->
<path d="M333.500,213.500 L334.500,212 L337.500,212.500 L340.500,212.200 L367.500,225 L368.800,227.500 L367.500,231.500 L362.500,235.200 L355,236.500 L334,227.500 L332.500,218 Z"/>
<path class="m" d="M332.500,218 L355.500,229 L368.800,227.500 M355.500,229 L355,236.500 M334.500,223.500 L355,233"/>
<path class="m" d="M358.500,230.800 L366.500,229.500 L366,232.500 L359,234 Z"/>
<circle class="m" cx="354" cy="221.500" r="0.900"/>
<!-- part 13 -->
<path d="M319.500,277.700 L322.800,279.200 L325,282 L333.800,276.600 L334.800,283 L346.900,278.800 C350.500,277.500 353,275.500 354.500,273.300 L355.600,267.800 L357.500,265.500 C358.500,260 358.800,255 358.300,250.300 C357.800,247.500 357,246 355.600,244.800 C353.500,243 351.500,242.500 349,242.700 C346.500,243 344.500,243.800 342.500,244.800 C340,246.500 338.500,248.500 337,251.400 L332.700,261.300 L328.300,269 Z"/>
<path class="m" d="M322.800,279.200 C326,276.500 328.500,273.500 330.500,270 L336,260 C337.500,257 338.800,254.500 340.300,252.500 C342,250 343.500,248.300 345.800,247 C348,246 350.500,245.500 352.300,246 C353.500,247 354.200,248.500 354.500,250.300 C354.800,255 354.500,260 353.400,265.600 C352.500,270 351,273 349,275.500 L346.900,278.800 M333.800,276.600 C335,273.500 336,270.500 337,267.800 C338,263.500 339,260 340.300,256.900 C341.500,253.500 343,251 344.700,249.200"/>
<!-- part 28 right -->
<path d="M535.500,338.200 L537.100,336.600 L542.600,338.800 L543.700,346.400 L553,350.200 L557.900,354.600 L547.500,356.300 L543.100,356.800 L542,354.600 L536,351.900 Z"/>
<path class="m" d="M537.100,336.600 L537.500,350 L542,354.600 M543.700,346.400 L543.500,353 L547.500,356.300"/>
<ellipse class="m" cx="539.800" cy="343.100" rx="1.400" ry="2.100"/>
<!-- part 27 -->
<path d="M508.700,351.900 L517.400,347.500 L519.600,349.700 L522.900,349.700 L525.100,350.800 L525.600,366.100 L532.200,363.400 L536,365 L536,368.800 L521.300,377 L518,373.800 L517.700,364 L511.400,368.300 L505.900,371 L503.200,363.400 Z"/>
<path class="m" d="M508.700,351.900 L514.700,352.400 L519.600,349.700 M514.700,352.400 L514.100,355.200 L511.400,368.300 M514.100,355.200 L517.400,355.200 L517.700,364 M517.400,355.200 L522.900,349.700 M503.200,363.400 L509,358.500 L514.100,355.200 M525.600,366.100 L526.700,367.200 L533.300,365 M526.700,367.200 L526.500,371.500 L521.300,377 M519.600,349.700 L520.200,372"/>
<!-- part 11 handle -->
<path d="M451,387 L453.800,383.400 L461.300,382.500 L467.800,378.800 L468.800,375 L472,373 L473,370.800 L475.300,372.200 L477,370.500 L479,374 L482,370.300 L484.500,369 L487.500,370.300 L489.300,372 L488.400,374 L489.500,377 L485.600,379.700 L485.500,383 L482,387 L478,388 L475.300,390 L465,393.800 L455.600,394.700 L451,392.800 Z"/>
<path class="m" d="M451,387 L457,388.500 L456.500,394.500 M457,388.500 L466.500,386 L474.500,381 L479,374 M466.500,386 L467.500,392.500 M474.500,381 L477.500,386 M461.300,382.500 L463,386.800 M468.800,375 L474.500,378 M453,390 L456.500,391"/>
<circle class="m" cx="485.600" cy="374" r="1.400"/><circle class="m" cx="484.300" cy="379" r="1.100"/><circle class="m" cx="480" cy="385.500" r="1.300"/>
<!-- part 12 track -->
<path d="M439.700,438.800 L446.300,434 L455.600,432.200 L460.300,434 L489.400,451.900 L493,451.900 L495,454.700 L510,461.300 L512.800,465 L510,468.800 L503,472 L503,474.500 L500,475 L499.700,473.400 L494,474 L485.600,470.600 L481,467 L480,464 L450,449 L449.500,451 L447,451 L447,447.500 L443.400,444.400 Z"/>
<path class="m" d="M446.300,434 L446.500,439 L443.400,444.400 M446.500,439 L484,459 L487,464.500 L499.700,468 L512.800,465 M487,464.500 L485.600,470.600 M450,437.500 L487.500,457.500 M456,435.500 L491,455 M460.300,434 L462,437.500"/>
<path class="m" d="M456.500,438 L460.500,436 M459.500,439.800 L463.500,437.800 M462.500,441.500 L466.500,439.500 M465.500,443.300 L469.500,441.300 M468.500,445 L472.500,443 M471.500,446.800 L475.500,444.800 M474.500,448.500 L478.500,446.500 M477.500,450.300 L481.500,448.300 M480.500,452 L484.500,450"/>
<path class="m" style="stroke-width:1.3" d="M490,458.500 L507,461.800 L508.500,464.500 L500,467 L490.500,463.500 Z M493.500,460.500 L503.500,462.500 L499,465 L494,463 Z M489.400,451.900 L490,458.500 M495,454.700 L494.500,459.500"/>
<!-- part 17 -->
<path d="M491.300,488.500 C491.500,486.500 493,485.500 495,484.500 L502.500,481.300 L519.500,474 C521.500,473.300 523.500,474 524.500,476.300 L524.800,481.500 L523.800,486.300 L521,489.500 L505,497.500 L497,500.500 L493.800,501.300 L492,499 Z"/>
<path class="m" d="M491.300,488.500 L496.500,490.500 L497,500.500 M496.500,490.500 L503.500,487 L515,482.500 M503.500,487 L504,490.500 L501,493 M508,494 L510.500,492"/>
<circle class="m" cx="519" cy="483.500" r="3.600"/><circle class="m" cx="519.500" cy="483" r="2.200"/>
<!-- part 14 -->
<path d="M533.800,443.800 C538,441.500 543,437 548,431.500 L556.500,423 C558.500,421 561.500,420.500 563.800,421.300 C565.500,423 565.800,425.500 565,427.500 C564,430.500 562,432.500 560,433.800 L554.500,434.800 L553,437.500 L550,440.500 L546,440.500 L537,447 C535,448 533.500,447 533.800,443.800 Z"/>
<path class="m" d="M536.500,444.500 C541,442 546,437.500 550,433 L557.500,425.500 C559,424 561,423.500 562.500,424"/>
<!-- part 15 shield -->
<path d="M581.300,445 C578,445 575.500,446 573.800,447.500 C570,450.500 567,454 565,457.500 L553.800,478.800 L552.500,482.500 L510,504 C506.500,506 504,508.500 502.800,512 C502,515.500 502.500,518.500 503.800,521.300 L507.500,525.500 L512.500,527.500 L515.500,530.500 L520,530.500 L555,511.300 L580,495 C582.500,493 584,490 584.500,486.500 L586.300,475 L588.800,455 C588.800,451 588,448.500 586.300,447.500 C585,445.800 583.300,445 581.300,445 Z"/>
<path class="m" d="M580,448 C577,448 575,449.500 573,452 L556.500,480 L555.500,484.500 L512,506.500 C509,508.500 507,511 506.500,514 C506,518 507.500,521.500 510.500,524 L516,526.500 L553,507.500 L577.500,491.500 C580,489.500 581,487 581.500,484 L584,462"/>
<path class="m" d="M553.800,478.800 L560,481.500 L580,474 L584.500,471.500 M560,481.500 L557.500,492.500 M580,474 L577,486 L557,497"/>
<path d="M525,507.500 L553,492.500 L557.500,492.500 L557.500,494.500 L551.300,505 L531.500,517.500 L528,517 L525,512 Z"/>
<path class="m" d="M528,509 L552,496 L548.500,503.500 L531.500,514 Z"/>
<circle class="m" cx="545.500" cy="500.500" r="2.300"/><circle class="m" cx="540" cy="504" r="1.200"/><circle class="m" cx="534" cy="508.500" r="1"/><circle class="m" cx="531" cy="511" r="0.800"/>
<!-- part 19 -->
<path d="M595.300,492.500 C596,490.500 598,490.200 600,490.500 C602.500,490.800 604,492 603.800,494 L600.500,507 C600,509 598,509.500 596,509.300 C593.500,509 592,508 592,506 Z"/>
<path class="m" d="M597.500,492.500 L594.500,506"/>
<!-- part 18 -->
<path d="M541.300,527.500 C541.500,525.500 543,524.500 545,523.800 L558,519 C560.500,518.300 563,518.500 564.500,519.800 C565.500,521.500 565,523.500 563.800,525 L551,533.500 C549,534.300 546.500,534 544.500,533 C542.500,531.500 541.300,529.500 541.300,527.500 Z"/>
<path class="m" d="M544.500,533 C545,530 547,528 550,526.500 L564.500,519.800"/>
</g>

<!-- p10_track.svg -->
<g class="p">
<!-- seat pan outline -->
<path d="M299.700,364.700 C300.500,361 302.500,359 304.400,358 L310,351.600 L325,344 L341.900,334.700 L360.600,315 L366,315.500 L371.900,319.700 L377.500,320.600 L378,325 L376.600,328 L370,328.500 L367,326.500"/>
<path d="M299.700,364.700 L300.600,372.200 L304.400,376.900 L351.300,397.500 L358,401 L366.300,402.200 L372,401 L379.400,397.500 L400,384.400 L425,370 L436,364.500"/>
<!-- left rail + leg -->
<path d="M294,390 L312.800,382.500 L317.500,385.300 L308,393.800 L298.800,395.600 Z"/>
<path class="m" d="M296,392.500 L314.500,384 M298.800,395.600 L298,391.800"/>
<path d="M294,390 L295,405 L290,410 L285.600,413.400 L284.700,417.200 L286.500,420.500 L293.500,422.500 L297.500,421.500 L306.300,410.600 L308,393.800"/>
<path class="m" d="M298.800,395.600 L299.500,407 L293,414 L286.500,420.500 M299.500,407 L306.300,410.600 M295,405 L299.500,407"/>
<circle class="m" cx="291" cy="417.500" r="1.100"/>
<!-- right rail -->
<path d="M435.300,388.800 L374.400,420.600 L361.500,428 L360.500,430 L362,432.500 L375,426 L434.400,394.400 L436,391.500 Z"/>
<path class="m" d="M435,391 L362,430.500 M374.400,420.600 L375,426"/>
<!-- right-front leg -->
<path d="M361.500,433.600 L363,440.600 L358,445 L353,449 L352.500,452 L354.500,454.700 L361,457.500 L365.500,457 L374.200,446.200 L377,432 L376.500,426"/>
<path class="m" d="M366,432 L367.500,443 L361,450 L354.500,454.700 M367.500,443 L374.200,446.200 M363,440.600 L367.500,443"/>
<circle class="m" cx="359" cy="453" r="1.100"/>
<!-- right-rear leg -->
<path d="M421.300,401.900 L422.200,408.400 L427.800,413 L432,413.500 L438,411.300 L441,407.500 L435.300,402.800 L434,399.500 L430.600,396.500"/>
<path class="m" d="M426,399.500 L426.500,406 L431,409 L438,411.300 M431,409 L435.300,402.800 M430.600,401.900 L435.300,402.800 M433,406 L437,407.500 L436.500,405"/>
</g>

<!-- p10b_pan_detail.svg -->
<g class="p" style="stroke-width:1.2">
<path d="M340.8,337.4 L308.3,364.5 L337.0,381.6 L367.5,398.0 L376.6,393.2"/>
<path d="M341.1,340.9 L313.3,364.0 L340.1,379.4 L368.2,394.7"/>
<path d="M345.6,340.3 L355.9,331.2 L362.8,322.6"/>
<path d="M348.6,343.7 L361.4,332.8 L369.1,324.8"/>
<path d="M342.5,335.0 L356.9,323.3 L359.7,319.0"/>
<path d="M355.2,344.3 L367.5,334.1 L373.4,327.6"/>
<path d="M370.3,336.6 L376.3,340.3 L378.5,340.4 L379.7,339.5 L379.4,338.0 L373.4,334.3 L371.2,334.2 L369.9,335.1 Z"/>
<path d="M344.4,337.8 L349.3,340.7 L351.3,340.7 L352.5,339.7 L352.4,338.4 L347.5,335.4 L345.5,335.5 L344.3,336.5 Z"/>
<path d="M319.6,362.5 L327.6,367.0 L331.7,366.0 L340.3,370.8 L339.4,373.5 L349.6,379.1 L353.8,378.3 L362.0,382.8 L361.0,385.4 L369.2,389.9 L373.6,389.3 L375.6,390.4"/>
<path d="M327.0,358.5 L333.9,362.4 L338.4,361.2 L346.8,366.0 L345.6,369.0 L354.6,374.0 L359.1,373.0 L368.9,378.5 L367.6,381.3 L374.0,384.9 L378.7,384.1 L382.7,386.4"/>
<path d="M334.5,354.5 L341.0,358.3 L345.5,357.2 L355.4,362.9 L354.3,365.8 L363.6,371.2 L368.2,370.3 L374.5,373.9 L373.2,376.7 L384.0,382.8 L388.7,382.0 L389.5,382.5"/>
<path d="M343.4,351.4 L352.6,356.8 L357.2,355.8 L366.3,361.1 L365.1,364.1 L372.0,368.1 L376.7,367.2 L382.9,370.8 L381.6,373.7 L390.3,378.7 L395.0,377.9 L396.2,378.6"/>
<path d="M350.9,347.5 L358.0,351.8 L362.3,351.0 L369.7,355.4 L368.9,358.1 L375.2,361.9 L379.5,361.2 L388.0,366.3 L387.1,368.9 L395.5,373.9 L399.9,373.3 L402.6,374.9"/>
<path d="M358.5,343.7 L367.3,349.0 L371.6,348.3 L381.0,354.0 L380.2,356.7 L388.9,362.0 L393.3,361.4 L402.9,367.1 L402.0,369.8 L406.7,372.6"/>
<path d="M361.2,337.8 L368.9,342.5 L372.9,342.0 L384.2,348.9 L383.8,351.5 L395.0,358.4 L399.1,358.0 L409.6,364.4 L409.1,366.9 L412.7,369.1"/>
<path d="M355.0,354.1 L363.2,358.9 L365.8,359.3 L367.0,358.5 L366.1,356.9 L357.9,352.1 L355.3,351.6 L354.1,352.5 Z"/>
<path d="M360.5,352.0 L368.7,356.8 L371.4,357.3 L372.5,356.5 L371.6,354.9 L363.3,349.9 L360.7,349.5 L359.6,350.3 Z"/>
<path d="M366.0,349.9 L374.3,354.8 L376.9,355.3 L378.1,354.5 L377.1,352.9 L368.8,347.8 L366.2,347.4 L365.0,348.2 Z"/>
<path d="M366.7,369.0 L376.2,374.5 L379.5,374.9 L381.0,373.9 L380.2,372.0 L370.6,366.5 L367.4,366.0 L365.9,367.1 Z"/>
<path d="M333.8,355.0 L340.0,358.5 L342.6,358.3 L344.3,357.0 L344.3,355.3 L338.1,351.7 L335.5,351.9 L333.8,353.2 Z"/>
<path d="M358.9,378.8 L367.2,383.4 L370.1,383.8 L371.6,382.9 L370.9,381.2 L362.5,376.5 L359.6,376.1 L358.2,377.1 Z"/>
<path d="M342.0,368.6 L349.5,372.7 L352.1,372.9 L353.6,372.0 L353.0,370.3 L345.5,366.1 L342.9,365.9 L341.5,366.9 Z"/>
<path d="M386.4,369.3 L394.1,373.9 L396.8,374.3 L398.1,373.5 L397.5,371.9 L389.7,367.3 L387.1,366.9 L385.8,367.7 Z"/>
<path d="M324.2,367.5 L329.7,370.5 L331.7,370.6 L332.9,369.7 L332.5,368.5 L327.0,365.4 L325.0,365.4 L323.9,366.2 Z"/>
<path d="M344.1,378.4 L350.5,381.9 L352.8,382.1 L353.9,381.4 L353.4,380.1 L347.0,376.5 L344.7,376.3 L343.6,377.1 Z"/>
<path d="M360.3,388.1 L365.8,391.1 L367.9,391.2 L369.1,390.5 L368.8,389.3 L363.3,386.3 L361.2,386.2 L360.0,386.9 Z"/>
<path d="M381.0,358.1 L388.4,362.5 L390.9,362.8 L392.2,361.9 L391.6,360.4 L384.3,355.9 L381.7,355.6 L380.4,356.5 Z"/>
<path d="M377.0,379.6 L383.1,383.1 L385.4,383.3 L386.8,382.5 L386.5,381.1 L380.3,377.6 L378.0,377.4 L376.6,378.3 Z"/>
<path d="M344.9,349.8 L349.7,352.6 L351.8,352.4 L353.3,351.3 L353.4,349.8 L348.6,347.0 L346.4,347.2 L344.9,348.4 Z"/>
<path d="M362.8,373.9 L368.4,377.1 L370.5,377.2 L371.7,376.5 L371.4,375.2 L365.7,372.0 L363.6,371.9 L362.5,372.6 Z"/>
<path d="M353.7,364.7 L358.4,367.4 L360.4,367.3 L361.7,366.5 L361.6,365.2 L356.9,362.5 L354.9,362.6 L353.6,363.5 Z"/>
<path d="M400.8,366.7 L406.7,370.3 L409.0,370.4 L410.3,369.7 L410.1,368.3 L404.2,364.7 L401.9,364.6 L400.6,365.4 Z"/>
<path d="M363.7,342.7 L370.6,346.9 L373.0,347.2 L374.1,346.4 L373.5,344.9 L366.5,340.6 L364.2,340.4 L363.1,341.2 Z"/>
<path d="M381.8,348.7 L389.8,353.5 L392.2,354.1 L393.3,353.4 L392.3,351.8 L384.4,346.9 L381.9,346.4 L380.9,347.1 Z"/>
<path d="M399.4,357.8 L407.4,362.6 L409.9,363.2 L410.9,362.6 L410.0,361.0 L402.0,356.1 L399.5,355.6 L398.5,356.2 Z"/>
<path d="M331.0,374.4 L342.6,372.8"/>
<path d="M336.2,377.3 L337.3,369.9"/>
<path d="M329.7,373.7 L336.0,369.2 L343.9,373.6 L337.5,378.0 Z"/>
</g>
<g class="m">
<path d="M347.4,341.3 L367.2,325.3"/>
<path d="M343.2,335.4 L347.6,337.2"/>
<path d="M352.6,341.1 L357.1,342.9"/>
<path d="M346.8,332.5 L351.3,334.3"/>
<path d="M356.3,338.2 L360.8,340.1"/>
<path d="M350.4,329.6 L354.9,331.5"/>
<path d="M360.0,335.4 L364.5,337.3"/>
<path d="M354.0,326.7 L358.6,328.6"/>
<path d="M363.7,332.6 L368.2,334.5"/>
<path d="M357.7,323.7 L362.2,325.7"/>
<path d="M367.3,329.7 L371.9,331.7"/>
<path d="M357.3,354.4 L362.5,357.5 L364.0,357.9 L364.5,357.5 L363.8,356.6 L358.6,353.5 L357.1,353.1 L356.6,353.5 Z"/>
<path d="M362.8,352.3 L368.1,355.4 L369.6,355.8 L370.1,355.5 L369.3,354.5 L364.0,351.4 L362.5,351.0 L362.0,351.3 Z"/>
<path d="M368.3,350.2 L373.6,353.4 L375.1,353.8 L375.6,353.5 L374.8,352.5 L369.5,349.3 L368.0,348.9 L367.5,349.3 Z"/>
<path d="M369.5,369.3 L375.6,372.8 L377.5,373.2 L378.2,372.8 L377.4,371.7 L371.3,368.2 L369.4,367.7 L368.7,368.2 Z"/>
<path d="M336.2,354.7 L340.1,357.0 L341.5,357.0 L342.3,356.4 L342.0,355.5 L338.0,353.3 L336.6,353.2 L335.9,353.8 Z"/>
<path d="M361.4,379.0 L366.8,382.0 L368.4,382.3 L369.0,381.9 L368.3,381.0 L363.0,378.0 L361.3,377.6 L360.7,378.0 Z"/>
<path d="M344.4,368.6 L349.1,371.3 L350.6,371.6 L351.2,371.1 L350.7,370.2 L345.9,367.5 L344.4,367.3 L343.8,367.7 Z"/>
<path d="M388.7,369.6 L393.7,372.5 L395.2,372.9 L395.8,372.5 L395.2,371.6 L390.2,368.7 L388.7,368.3 L388.1,368.7 Z"/>
<path d="M326.0,367.5 L329.5,369.4 L330.6,369.5 L331.1,369.2 L330.7,368.5 L327.2,366.5 L326.1,366.4 L325.6,366.8 Z"/>
<path d="M346.1,378.5 L350.2,380.8 L351.4,381.0 L352.0,380.7 L351.5,379.9 L347.3,377.7 L346.1,377.4 L345.6,377.8 Z"/>
<path d="M362.1,388.1 L365.6,390.1 L366.8,390.2 L367.3,389.9 L367.0,389.3 L363.4,387.3 L362.3,387.1 L361.8,387.5 Z"/>
<path d="M383.3,358.3 L388.0,361.1 L389.4,361.4 L390.0,361.0 L389.4,360.2 L384.7,357.3 L383.3,357.0 L382.7,357.4 Z"/>
<path d="M379.0,379.7 L382.9,381.9 L384.2,382.2 L384.8,381.8 L384.4,381.1 L380.5,378.8 L379.2,378.6 L378.6,378.9 Z"/>
<path d="M346.8,349.5 L349.8,351.3 L351.0,351.3 L351.6,350.9 L351.5,350.1 L348.4,348.3 L347.2,348.3 L346.6,348.8 Z"/>
<path d="M364.6,373.9 L368.2,376.0 L369.4,376.2 L369.9,375.9 L369.5,375.2 L365.9,373.1 L364.8,372.9 L364.2,373.2 Z"/>
<path d="M355.4,364.6 L358.5,366.3 L359.5,366.4 L360.1,366.0 L359.9,365.4 L356.8,363.6 L355.7,363.5 L355.2,363.9 Z"/>
<path d="M402.8,366.8 L406.6,369.1 L407.9,369.3 L408.5,369.0 L408.1,368.2 L404.3,365.9 L403.1,365.7 L402.5,366.0 Z"/>
<path d="M365.8,342.9 L370.2,345.6 L371.5,345.9 L372.0,345.5 L371.4,344.7 L367.0,342.0 L365.7,341.7 L365.2,342.0 Z"/>
<path d="M384.0,349.1 L389.1,352.2 L390.5,352.6 L390.9,352.3 L390.2,351.4 L385.1,348.3 L383.7,347.9 L383.2,348.2 Z"/>
<path d="M401.6,358.2 L406.7,361.3 L408.1,361.8 L408.6,361.5 L407.8,360.6 L402.7,357.5 L401.3,357.0 L400.8,357.3 Z"/>
<path d="M341.7,366.6 L344.3,367.7"/>
<path d="M353.0,340.0 L355.7,341.3"/>
<path d="M378.6,378.2 L382.2,376.3"/>
<path d="M359.4,389.9 L362.0,391.0"/>
<path d="M386.3,377.7 L389.9,375.9"/>
<path d="M338.8,374.3 L342.2,372.3"/>
<path d="M369.1,379.6 L371.7,380.8"/>
<path d="M377.4,342.4 L380.8,340.3"/>
<path d="M331.7,359.9 L334.3,361.1"/>
<path d="M353.8,338.6 L356.5,339.9"/>
<path d="M365.6,367.1 L368.3,368.3"/>
<path d="M359.7,382.5 L363.2,380.6"/>
<path d="M339.7,353.8 L342.3,355.0"/>
<path d="M374.0,339.9 L377.5,337.8"/>
<path d="M372.0,344.1 L374.7,345.4"/>
<path d="M375.8,348.3 L379.2,346.2"/>
<path d="M365.0,333.2 L367.7,334.6"/>
<path d="M364.1,346.3 L366.8,347.6"/>
<path d="M333.4,371.3 L335.9,372.4"/>
<path d="M357.0,374.4 L360.5,372.4"/>
<path d="M355.4,360.9 L358.9,358.8"/>
<path d="M367.5,360.5 L371.0,358.5"/>
<path d="M331.0,365.2 L334.4,363.0"/>
<path d="M370.2,381.5 L372.8,382.6"/>
<path d="M399.9,357.7 L402.7,359.0"/>
<path d="M409.3,366.9 L412.9,365.1"/>
<path d="M341.5,374.0 L344.1,375.1"/>
<path d="M377.6,386.3 L381.2,384.4"/>
<path d="M366.4,344.5 L369.8,342.4"/>
<path d="M338.0,367.8 L341.4,365.7"/>
<path d="M328.2,359.1 L331.5,356.9"/>
<path d="M390.3,371.5 L392.9,372.8"/>
<path d="M373.4,385.9 L376.0,387.0"/>
<path d="M349.4,357.8 L352.0,359.0"/>
<path d="M340.6,357.5 L344.0,355.3"/>
<path d="M337.8,356.3 L341.2,354.1"/>
<path d="M399.7,374.5 L403.3,372.8"/>
<path d="M352.1,377.7 L354.7,378.9"/>
<path d="M356.6,333.1 L359.9,330.9"/>
<path d="M366.7,392.6 L370.3,390.8"/>
<path d="M374.9,355.4 L377.6,356.7"/>
<path d="M371.3,392.1 L375.0,390.3"/>
<path d="M397.8,358.8 L401.4,356.9"/>
<path d="M390.6,361.0 L394.2,359.1"/>
<path d="M365.3,352.4 L368.7,350.4"/>
<path d="M381.5,378.1 L385.1,376.2"/>
<path d="M388.8,373.1 L392.4,371.3"/>
<path d="M362.2,356.9 L365.6,354.8"/>
<path d="M347.7,344.9 L351.1,342.7"/>
<path d="M397.5,369.0 L400.2,370.3"/>
<path d="M382.0,368.6 L384.7,369.9"/>
<path d="M363.1,387.1 L366.7,385.2"/>
<path d="M343.1,344.5 L345.8,345.8"/>
<path d="M359.0,347.9 L361.7,349.1"/>
<path d="M391.7,353.9 L394.4,355.2"/>
<path d="M328.4,354.7 L331.7,352.5"/>
<path d="M332.8,365.2 L336.2,363.1"/>
<path d="M371.0,370.5 L374.5,368.6"/>
<path d="M363.0,352.3 L365.7,353.5"/>
<path d="M375.6,351.1 L379.0,349.1"/>
<path d="M310.8,369.4 L313.7,371.0"/>
<path d="M316.3,372.4 L319.2,374.0"/>
<path d="M321.8,375.4 L324.7,376.9"/>
<path d="M327.3,378.3 L330.2,379.9"/>
<path d="M332.8,381.3 L335.7,382.8"/>
<path d="M338.3,384.2 L341.2,385.8"/>
<path d="M343.8,387.2 L346.7,388.7"/>
<path d="M349.3,390.1 L352.2,391.7"/>
<path d="M354.8,393.1 L357.7,394.7"/>
</g>

<!-- p10c_track_top.svg -->
<g class="p">
<!-- rear tube (white filled, on top of pan detail) -->
<path d="M367,326.500 C365,329 365.500,333.500 367.800,336.300 L423,364.400 L430,361 L432.500,356.900 L374.400,327.800 Z" fill="#fff"/>
<path class="m" d="M372.500,332 L428,360.500"/>
<path class="m" style="stroke-width:1.3" d="M377,329.500 C375,332 375,336.500 377,339.500 M380,331 C378,333.500 378,338 380,341 M395.500,338.500 C393.500,341 393.500,346 395.500,349 M398.500,340 C396.500,342.500 396.500,347.500 398.500,350.500 M406,344 C404,346.500 404,351 406,354 M409,345.500 C407,348 407,352.500 409,355.500"/>
<path class="m" d="M383,336.500 L393,341.500 M400.500,345.500 L404,347.200 M411.500,351 L421,355.800 M369,337.500 L371,343 L376,345.500 M382,343.500 L384,348.500 L392,352.500 M399,352 L401,357 L408,360.500"/>
<ellipse class="m" cx="374.500" cy="323.500" rx="2.600" ry="3.300" fill="#fff"/>
<ellipse class="m" cx="374.800" cy="323.500" rx="1.200" ry="1.800"/>
<path class="m" d="M360.600,315 L363,321 L367,326.500 M366,315.500 L369,321.500 M363,321 L358,327 L352,338"/>
<!-- side arm -->
<path d="M379.400,397.500 L383,392 L437.500,353.700 L441,353.500 L445,356.500 L447.500,355.500 L452.200,358.800 L453.500,362 L453,365.300 L447,369 L440,373.800 L437,378 L436.300,381.300 L436,388 L432,390 L431.500,380 L428,377.500 L392,398.500 L386,404 Z" fill="#fff"/>
<path class="m" d="M385,395.500 L438.500,358 M388,398 L432,371.500 L440.500,362.500 M437.500,353.700 L440.500,362.500 L447,369 M445,356.500 L442,362"/>
<circle class="m" cx="448.500" cy="360.800" r="1.900"/><circle class="m" cx="448.500" cy="360.800" r="0.800"/><circle class="m" cx="441.500" cy="368" r="1.500"/>
<!-- mechanism between arm and rail -->
<path class="m" d="M392,398.500 L393,409 M398,395 L399,405.500 M404,391.500 L404.500,402.500 M410,388 L410.500,399.500 M393,403 C396,400.500 400,401 402,403.500 C404,406 408,405.500 410,402.500 C412,399.500 416,399 418,401 M396,407 L402,409.500 L409,405 L414,406.500 L420,402.500 M415,385.500 L416,396.500 L424,392 L423.500,381 M416,390.500 L423.500,386.500 M426,379.500 L427,390 M420,394.500 C421.500,392 425,391.500 427,393"/>
<ellipse class="m" cx="399.500" cy="404.500" rx="2.800" ry="1.800" transform="rotate(-28 399.500 404.500)"/>
<ellipse class="m" cx="412" cy="397.500" rx="2.500" ry="1.600" transform="rotate(-28 412 397.500)"/>
<!-- center upright -->
<path d="M374,401.500 L374.200,408.300 L375.600,421.500 M380,400 L381,418.500 M386,404 L387.500,415"/>
<path class="m" d="M376,405 L380.500,403 M376.500,412 L381,410 M382,407 L386.500,409 M377.500,417.500 L381,416"/>
</g>

<!-- p11_bottom_mid.svg -->
<g class="p">
<!-- part 24 -->
<path d="M256.400,421 L264.800,416.900 L266.300,421 L270.500,419.700 L271.900,425.300 L276,425.300 L277.500,440.800 L274,443 L262,449.200 L258,448 L249.400,443.600 L249.400,438 L256.400,433.800 Z"/>
<path class="m" d="M256.400,433.800 L262,436.500 L269,432.500 L270,427 L271.900,425.300 M264.800,416.900 L265.500,428 M266.300,421 L267,430.500 M258,424.500 L265,421.500 M262,436.500 L262,441 L256,444 L251,441.500 M262,441 L274,435 M262,449.200 L262.500,444.500 M270.500,419.700 L270,427 M253,439 L258.500,442 L262,440"/>
<!-- part 28 left bottom -->
<path d="M222.700,433.800 L228.300,435 L229.700,447.800 L221.300,456.300 L212.800,452 L221.300,445 Z"/>
<path class="m" d="M221.300,445 L229.700,447.800"/>
<!-- part 20 -->
<path d="M253,459 C253.500,457 254.800,456 256.400,455.800 L261,457 L264,459 L268.400,464.500 L290.300,476.600 L291.400,474.400 L294.700,475.500 L294.700,479.900 L301.300,483 L307,482.500 L312.200,481 L315.500,484.200 L316.600,489.700 L315.500,492.500 L313.300,494 L307,496 L301.300,496.300 L296,495 L290.300,491.900 L268.400,479.900 L256.400,470 L253.500,466.500 L253,464.500 Z"/>
<path class="m" d="M254.200,462.300 L258,464 L266.300,467.800 L290.300,482 L301.300,487.500 L308,488 L314.400,487.500 M258,464 L256.400,470 M267.300,465.600 L289.200,477.700 L287,479.500 L265.500,467.500 M294.700,479.900 L294,484 M301.300,483 L301.300,487.500 M303,490.500 L312,490.800 M302,493 L311,493.300"/>
<!-- part 23 -->
<path d="M285,431.300 L292.500,432.500 L296.300,430.500 L300,432.500 L301.300,436.300 L307.500,440 L312.500,438.800 L315,441.300 L314,443 L325,448.800 L328.800,447.500 L331.300,450 L330,452.500 L338.800,458.800 L340,462.500 L336.300,463.800 L328.800,460 L326.300,461.300 L323.800,457.500 L318.800,456.300 L317.500,458.800 L313.800,457.500 L312.500,453.800 L306.300,450 L303.800,451.300 L300,447.500 L300,445 L293.800,441.300 L290,442.500 L287.500,438.800 L288.800,436.300 L285,433.800 Z"/>
<path class="m" d="M288.800,433.500 L300.500,439 L313,445.800 L326,453 L337,460.500 M292.500,432.500 L293,435.500 M301.300,436.300 L300.500,439 M312.500,438.800 L313,445.800 M325,448.800 L326,453 M300,445 L303.500,443 M312.500,453.800 L316,451.500 M323.800,457.500 L327,456"/>
<!-- part 30 -->
<path d="M345,468 L346.500,467.200 L348.800,468 L349.300,470 L348,471.800 L345.700,471.800 L344.500,470 Z"/>
<path d="M349,470.400 L356.800,473.200" style="stroke-width:1.700"/>
<path d="M356.100,469 L358.200,467.600 L361,468.300 L365.200,467.600 L373,466.200 L377.200,463.800 L384.200,463.400 L389.800,465.500 L394,469 L394,471 L390.500,473.900 L381.400,475.300 L380,478.800 L377.200,478.800 L376.500,476.700 L370.900,478.100 L370.200,480.200 L365.200,480.200 L357.500,476 L356.100,472.500 Z"/>
<path class="m" style="stroke-width:1.300" d="M374,468.500 C374,466 378,464.500 383,464.600 C388,464.800 392,466.500 392,468.800 C392,471.200 388,472.800 383,472.700 C378,472.500 374,471 374,468.500 Z"/>
<path class="m" style="stroke-width:1.200" d="M377.500,468.500 C378,466.800 380.500,466 383.500,466.200 C386.500,466.500 388.500,467.500 388.300,468.800 C388,470 385.500,470.800 382.500,470.600 L378,470 M380.500,468.300 L386.500,468.600"/>
<path class="m" d="M357.500,476 L363,473.800 L370.900,478.100 M363,473.800 L365.200,470.500 L373,469.500 M365.200,467.600 L365.200,470.500 M361,468.300 L361.500,471.500"/>
<!-- part 31 -->
<ellipse cx="394.800" cy="485.200" rx="11.300" ry="5.600" transform="rotate(-7 394.800 485.200)"/>
<ellipse class="m" cx="395" cy="484" rx="7" ry="3.200" transform="rotate(-7 395 484)"/>
<ellipse class="m" cx="395.300" cy="483.500" rx="3.400" ry="1.600" transform="rotate(-7 395.300 483.500)"/>
<path class="m" d="M384,488 C386,491 392,492.300 398,491.800 C402,491.300 405,489.800 406,487.500"/>
<!-- part 28 bottom right -->
<path d="M377.900,509.800 L383.500,510.500 L384.200,523.100 L377.900,533 L368,527.400 L375.800,520.300 Z"/>
<path class="m" d="M375.800,520.300 L384.200,523.100"/>
<!-- part 16 -->
<path d="M403.700,425.300 L408,429.500 L415,426.700 L416.400,421 L422,419.700 L422,426.700 L416.400,431 L417,438 L417.800,445 L412.200,449.200 L409.400,449.200 L412.200,442.200 L410.800,433.800 L405.500,431 Z"/>
<path class="m" d="M408,429.500 L410.800,433.800 M416.400,431 L415,426.700 M412.200,442.200 L417,438 M413,436 L416.500,434"/>
<!-- part 25 -->
<path d="M413.400,496.700 L463.400,470.600 L466.600,472.500 L467.300,483.400 L463.400,488 L472.800,480 L476.700,481 L478.800,485 L474.400,489.700 L468,496 L457.200,505.300 L449.400,510 L441.600,510.800 L424.400,521.700 L419.700,524 L411.900,523.300 L408.800,525.600 L398.600,524 L397,517.800 L397.800,514.700 L401.700,513 L402.500,506.900 L401.700,504.500 L404.800,501.400 L406.400,498.300 Z"/>
<path class="m" d="M413.400,496.700 L415,513 L411.900,523.300 M415,513 L462.700,489 L463.400,488 M414.200,499 L462.800,473.500 M406.400,498.300 L409.500,500 L410,512.500 L401.700,513 M409.500,500 L413.400,496.700 M397,517.800 L406.500,519.500 L408.800,525.600 M406.500,519.500 L410,512.500 M399,520.500 L399.500,523 M402.500,521 L403,523.800 M417,518.500 L446,502.500 L474.400,483.500 M419.500,521.500 L449,505.500 L468,493"/>
</g>


<!--ARROWS-->
<g class="a" marker-end="url(#ah)">
<path d="M81,209.8 L99.3,209.8"/>
<path d="M269,121.5 L251,121.5"/>
<path d="M283,186 L267,195.5"/>
<path d="M321,243 L337,251"/>
<path d="M347.5,195 L347.5,213"/>
<path d="M307.5,278 L334,299"/>
<path d="M287.5,293.5 L297.5,308"/>
<path d="M224,294.3 L241.5,294.3"/>
<path d="M242.5,408.5 L257,420.5"/>
<path d="M324,426.5 L313,441"/>
<path d="M397.5,152 L408,166.5"/>
<path d="M475.8,128.8 L430.5,128.8"/>
<path d="M475.8,149.8 L457.6,149.8"/>
<path d="M556.2,140 L556.2,157.5"/>
<path d="M525.5,273.5 L509.5,268.5"/>
<path d="M566,309.3 L547.5,309.3"/>
<path d="M579,354.4 L558.5,354.4"/>
<path d="M476.3,325 L476.3,369"/>
<path d="M492.3,432 L492.3,451"/>
<path d="M522.5,395.5 L522.5,377.5"/>
<path d="M561.2,400 L561.2,418.5"/>
<path d="M581.5,428 L581.5,445"/>
<path d="M520.5,457 L520.5,474.5"/>
<path d="M601.5,472.5 L601.5,490"/>
<path d="M440.5,424.8 L423,425.3"/>
<path d="M411.5,463.3 L393.5,467"/>
<path d="M468.5,518 L456.5,506"/>
<path d="M584,523.8 L565.5,523.8"/>
<path d="M335,489.4 L316.5,489.4"/>
<path d="M372.3,503 L384.3,489.6"/>
<path d="M272,498.5 L230.5,448.5"/>
<path d="M299.5,516.7 L366.5,528.5"/>
<path d="M49.4,334 L49.4,316"/>
<path d="M94.5,386.6 L111.5,386.6"/>
<path d="M135.5,520 L149,512.5"/>
<path d="M464,335 L464,349 L452,355.5"/>
</g>
<g class="a">
<path d="M483,140 L475.8,140 M475.8,128.1 L475.8,150.5"/>
<path d="M464,335 L492.3,335 L492.3,407"/>
<path d="M45,404.5 L45,414.3"/>
<path d="M25.8,414.3 L98,414.3 L240.6,477 L240.6,534.3 L25.8,534.3 Z"/>
</g>
<!--LABELS-->
<g style="will-change:transform">
<use href="#one" transform="translate(69.30,218.20) scale(0.011719)"/>
<text x="269.60" y="130.50">6</text>
<text x="283.60" y="186.50">3</text>
<text x="296.95" y="186.50">2</text>
<use href="#one" transform="translate(298.10,247.00) scale(0.011719)"/>
<text x="311.45" y="247.00">3</text>
<text x="336.10" y="191.50">2</text>
<use href="#one" transform="translate(349.45,191.50) scale(0.011719)"/>
<text x="296.10" y="274.50">2</text>
<text x="309.45" y="274.50">8</text>
<text x="268.10" y="291.50">2</text>
<text x="281.45" y="291.50">6</text>
<text x="209.60" y="302.50">3</text>
<text x="219.10" y="411.50">2</text>
<text x="232.45" y="411.50">4</text>
<text x="321.10" y="423.00">2</text>
<text x="334.45" y="423.00">3</text>
<text x="386.60" y="150.00">4</text>
<text x="483.60" y="150.00">7</text>
<text x="550.10" y="138.00">5</text>
<text x="525.10" y="283.50">2</text>
<text x="538.45" y="283.50">9</text>
<text x="565.10" y="318.50">2</text>
<text x="578.45" y="318.50">2</text>
<text x="578.10" y="363.50">2</text>
<text x="591.45" y="363.50">8</text>
<use href="#one" transform="translate(467.60,324.50) scale(0.011719)"/>
<use href="#one" transform="translate(480.95,324.50) scale(0.011719)"/>
<text x="512.10" y="415.50">2</text>
<text x="525.45" y="415.50">7</text>
<use href="#one" transform="translate(548.60,397.00) scale(0.011719)"/>
<text x="561.95" y="397.00">4</text>
<use href="#one" transform="translate(570.10,426.50) scale(0.011719)"/>
<text x="583.45" y="426.50">5</text>
<use href="#one" transform="translate(480.60,430.00) scale(0.011719)"/>
<text x="493.95" y="430.00">2</text>
<use href="#one" transform="translate(509.60,456.50) scale(0.011719)"/>
<text x="522.95" y="456.50">7</text>
<use href="#one" transform="translate(589.60,469.50) scale(0.011719)"/>
<text x="602.95" y="469.50">9</text>
<use href="#one" transform="translate(439.10,430.00) scale(0.011719)"/>
<text x="452.45" y="430.00">6</text>
<text x="411.10" y="469.50">3</text>
<text x="424.45" y="469.50">0</text>
<text x="467.10" y="536.50">2</text>
<text x="480.45" y="536.50">5</text>
<use href="#one" transform="translate(582.60,533.00) scale(0.011719)"/>
<text x="595.95" y="533.00">8</text>
<text x="335.60" y="497.50">2</text>
<text x="348.95" y="497.50">0</text>
<text x="350.60" y="518.00">3</text>
<use href="#one" transform="translate(363.95,518.00) scale(0.011719)"/>
<text x="274.10" y="517.50">2</text>
<text x="287.45" y="517.50">8</text>
<text x="42.60" y="354.00">8</text>
<text x="81.60" y="395.00">2</text>
<text x="38.60" y="403.50">9</text>
<use href="#one" transform="translate(109.60,531.50) scale(0.011719)"/>
<text x="122.95" y="531.50">0</text>
</g>
</svg>
</body></html>
